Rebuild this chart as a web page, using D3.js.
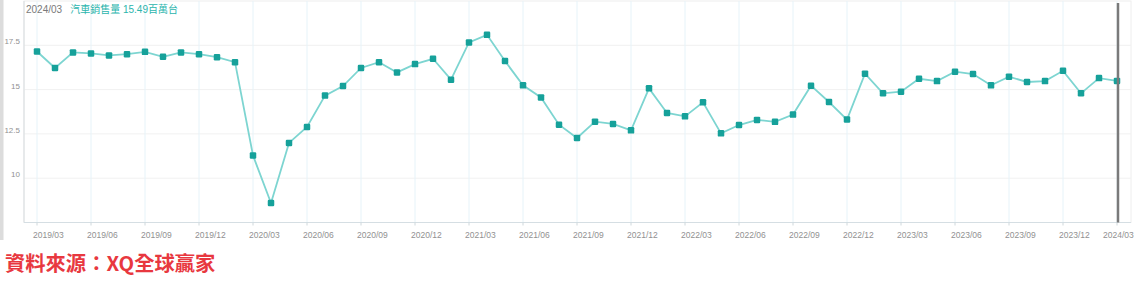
<!DOCTYPE html>
<html>
<head>
<meta charset="utf-8">
<script src="https://cdn.jsdelivr.net/npm/d3@7"></script>
<style>
  body { margin: 0; background: #fff; }
  svg { display: block; font-family: "Liberation Sans", "Noto Sans CJK TC", sans-serif; }
</style>
</head>
<body>
<svg id="chart" width="1136" height="286"></svg>
<script>
// monthly car sales (millions), 2019/03 .. 2024/03
const months = d3.range(0, 61).map(i => {
  const yr = 2019 + Math.floor((i + 2) / 12), m = (i + 2) % 12 + 1;
  return `${yr}/${String(m).padStart(2, "0")}`;
});
const sales = [
  17.15, 16.22, 17.10, 17.04, 16.93, 17.00, 17.13, 16.85, 17.10, 17.00,
  16.83, 16.55, 11.28, 8.60, 11.99, 12.89, 14.66, 15.20, 16.22, 16.55,
  15.97, 16.44, 16.74, 15.56, 17.66, 18.09, 16.61, 15.24, 14.56, 13.02,
  12.27, 13.19, 13.06, 12.70, 15.07, 13.68, 13.49, 14.28, 12.53, 13.00,
  13.29, 13.18, 13.59, 15.22, 14.30, 13.31, 15.90, 14.79, 14.88, 15.61,
  15.48, 16.01, 15.88, 15.24, 15.73, 15.43, 15.48, 16.06, 14.79, 15.65,
  15.49
];
const xTicks = months.filter((d, i) => i % 3 === 0);
const yTicks = [10, 12.5, 15, 17.5];

const svg = d3.select("#chart");
const pLeft = 24, pRight = 1131, pTop = 1, pBottom = 222.5;

const x = d3.scalePoint().domain(months).range([37, 1117]);
const y = d3.scaleLinear().domain([7.5, 20]).range([pBottom, pTop]);

// left gray strip
svg.append("rect").attr("x", 0).attr("y", 0).attr("width", 3.5).attr("height", 240).attr("fill", "#dcdcdc");

// frame
svg.append("rect")
  .attr("x", pLeft).attr("y", pTop).attr("width", pRight - pLeft).attr("height", pBottom - pTop)
  .attr("fill", "none").attr("stroke", "#eeeeee");

// grids
svg.append("g").selectAll("line").data(yTicks).join("line")
  .attr("x1", pLeft).attr("x2", pRight)
  .attr("y1", d => y(d)).attr("y2", d => y(d))
  .attr("stroke", "#f1f1f1");
svg.append("g").selectAll("line").data(xTicks).join("line")
  .attr("x1", d => x(d)).attr("x2", d => x(d))
  .attr("y1", pTop).attr("y2", pBottom)
  .attr("stroke", "#e6f3f9");

// axes lines
svg.append("line").attr("x1", pLeft).attr("x2", pLeft).attr("y1", pTop).attr("y2", pBottom).attr("stroke", "#d8dde0");
svg.append("line").attr("x1", pLeft).attr("x2", pRight).attr("y1", pBottom).attr("y2", pBottom).attr("stroke", "#d5dee3");

// x ticks + labels
svg.append("g").selectAll("line").data(xTicks).join("line")
  .attr("x1", d => x(d)).attr("x2", d => x(d))
  .attr("y1", pBottom).attr("y2", pBottom + 3)
  .attr("stroke", "#cfd8dc");
svg.append("g").selectAll("text").data(xTicks).join("text")
  .attr("x", d => Math.min(x(d) - 4, 1103))
  .attr("y", 238)
  .attr("font-size", 8.5)
  .attr("fill", "#919191")
  .text(d => d);

// y labels
svg.append("g").selectAll("text").data(yTicks).join("text")
  .attr("x", 20).attr("y", d => y(d) - 1)
  .attr("text-anchor", "end")
  .attr("font-size", 8)
  .attr("fill", "#919191")
  .text(d => d);

// series
const line = d3.line().x((d, i) => x(months[i])).y(d => y(d));
svg.append("path")
  .datum(sales)
  .attr("fill", "none")
  .attr("stroke", "#7dd5d1")
  .attr("stroke-width", 1.8)
  .attr("d", line);
svg.append("g").selectAll("rect").data(sales).join("rect")
  .attr("x", (d, i) => x(months[i]) - 3.25)
  .attr("y", d => y(d) - 3.25)
  .attr("width", 6.5).attr("height", 6.5)
  .attr("rx", 1.2)
  .attr("fill", "#16a19a");

// cursor line at last month
const last = months[months.length - 1];
svg.append("line")
  .attr("x1", x(last) + 1).attr("x2", x(last) + 1)
  .attr("y1", pTop + 2).attr("y2", pBottom)
  .attr("stroke", "#7a7a7a").attr("stroke-width", 2.5);

// header
const head = svg.append("text").attr("x", 26).attr("y", 13).attr("font-size", 10);
head.append("tspan").attr("fill", "#7a7a7a").text(last);
head.append("tspan").attr("dx", 8).attr("fill", "#2bb5ad").text(`汽車銷售量 ${sales[sales.length - 1]}百萬台`);

// source
svg.append("text")
  .attr("x", 5).attr("y", 271)
  .attr("font-size", 20.3)
  .attr("font-weight", "bold")
  .attr("fill", "#e8383f")
  .attr("font-family", "'Noto Sans CJK TC', sans-serif")
  .text("資料來源：XQ全球贏家");
</script>
</body>
</html>
